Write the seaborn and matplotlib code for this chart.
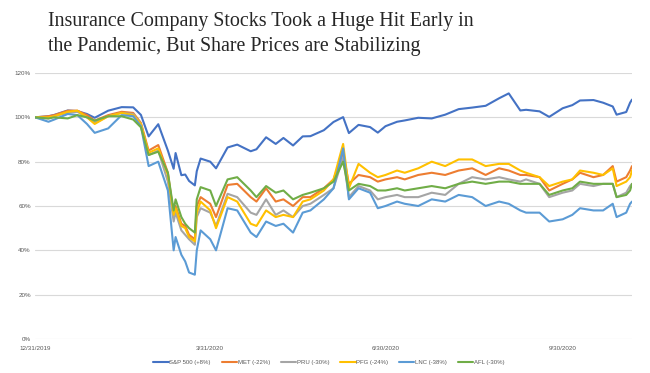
import matplotlib
matplotlib.use("Agg")
import matplotlib.pyplot as plt
import seaborn as sns
import pandas as pd

dates = ["2019-12-31", "2020-01-07", "2020-01-10", "2020-01-17", "2020-01-22", "2020-01-27",
         "2020-01-31", "2020-02-07", "2020-02-14", "2020-02-20", "2020-02-24", "2020-02-28",
         "2020-03-04", "2020-03-09", "2020-03-12", "2020-03-13", "2020-03-16", "2020-03-18",
         "2020-03-20", "2020-03-23", "2020-03-24", "2020-03-26", "2020-03-31", "2020-04-03",
         "2020-04-09", "2020-04-14", "2020-04-21", "2020-04-24", "2020-04-29", "2020-05-04",
         "2020-05-08", "2020-05-13", "2020-05-18", "2020-05-22", "2020-05-29", "2020-06-03",
         "2020-06-08", "2020-06-11", "2020-06-16", "2020-06-22", "2020-06-26", "2020-06-30",
         "2020-07-06", "2020-07-10", "2020-07-17", "2020-07-24", "2020-07-31", "2020-08-07",
         "2020-08-14", "2020-08-21", "2020-08-28", "2020-09-02", "2020-09-08", "2020-09-11",
         "2020-09-18", "2020-09-23", "2020-09-30", "2020-10-05", "2020-10-09", "2020-10-16",
         "2020-10-21", "2020-10-26", "2020-10-28", "2020-11-02", "2020-11-04", "2020-11-05"]

sp500 = [100, 100.5, 101.1, 103.1, 102.8, 101.5, 99.8, 103.0, 104.6, 104.5, 101.1, 91.4,
         96.9, 85.0, 76.8, 83.9, 73.9, 74.2, 71.3, 69.3, 75.7, 81.4, 80.0, 77.0,
         86.4, 87.7, 84.7, 85.6, 91.0, 88.0, 90.7, 87.3, 91.4, 91.5, 94.2, 97.9,
         100.1, 92.9, 96.6, 95.6, 93.1, 96.0, 98.0, 98.6, 99.8, 99.5, 101.2, 103.7,
         104.4, 105.2, 108.6, 110.8, 103.1, 103.4, 102.7, 100.2, 104.1, 105.5, 107.6, 107.8,
         106.6, 104.9, 101.2, 102.4, 106.6, 108.0]
met = [100, 100.5, 101, 103, 103, 101, 98.5, 101, 102.5, 102, 97.5, 85,
       87.5, 75, 56, 60, 52, 51, 47, 45, 60, 64, 61, 55,
       69.5, 70, 64, 62, 68, 62, 63, 60, 64, 64, 68, 72,
       84, 70, 74, 73, 71, 72, 73, 72, 74, 75, 74, 76,
       77, 74, 77, 76, 74, 74, 73, 67, 70, 72, 75, 73,
       74, 78, 71, 73, 76, 78]
pru = [100, 99.5, 100.5, 102, 102.5, 100, 97.5, 100.5, 102, 101.5, 97, 83,
       85, 71, 53, 57, 49, 47, 45, 42.5, 55, 59, 57, 51,
       65.5, 64, 57, 56, 63, 56, 58, 55, 60, 61, 65, 68,
       82, 64, 69, 67, 63, 64, 65, 64, 64, 66, 65, 70,
       73, 72, 73, 72, 71, 72, 70, 64, 66, 67, 70, 69,
       70, 70, 64, 66, 69, 70]
pfg = [100, 100, 100.5, 102.5, 103, 100, 97, 100.5, 102, 101, 97, 84,
       86, 74, 56, 59, 51, 50, 46, 44, 57, 62, 58, 50,
       64, 62, 52, 51, 58, 55, 56, 55, 62, 63, 67, 72,
       88, 68, 79, 75, 73, 74, 76, 75, 77, 80, 78, 81,
       81, 78, 79, 79, 76, 75, 73, 69, 71, 72, 76, 75,
       74, 77, 69, 71, 73, 76]
lnc = [100, 98, 99, 101.5, 101, 97, 93, 95, 101, 100.5, 96, 78,
       80, 67, 40, 46, 38, 35, 30, 29, 40, 49, 45, 40,
       59, 58, 48, 46, 53, 51, 52, 48, 57, 58, 63, 68,
       86, 63, 68, 66, 59, 60, 62, 61, 60, 63, 62, 65,
       64, 60, 62, 61, 58, 57, 57, 53, 54, 56, 59, 58,
       58, 61, 55, 57, 61, 62]
afl = [100, 99.5, 100, 99.5, 101, 100, 98.5, 100.5, 100.5, 99, 95.5, 83,
       84.5, 75, 58, 63, 55, 52, 50, 48, 63, 68.5, 67, 60,
       72, 73, 67, 64, 69, 66, 67, 63, 65, 66, 68, 71,
       80, 67, 70, 69, 67, 67, 68, 67, 68, 69, 68, 70,
       71, 70, 71, 71, 70, 70, 70, 65, 67, 68, 71, 70,
       70, 70, 64, 65, 67, 70]

labels = ["S&P 500 (+8%)", "MET (-22%)", "PRU (-30%)", "PFG (-24%)", "LNC (-38%)", "AFL (-30%)"]
colors = ["#4472C4", "#ED7D31", "#A5A5A5", "#FFC000", "#5B9BD5", "#70AD47"]
series = [sp500, met, pru, pfg, lnc, afl]

tick_dates = ["2019-12-31", "2020-03-31", "2020-06-30", "2020-09-30"]
tick_labels = ["12/31/2019", "3/31/2020", "6/30/2020", "9/30/2020"]
ytick_vals = [0, 20, 40, 60, 80, 100, 120]
ytick_labels = ["0%", "20%", "40%", "60%", "80%", "100%", "120%"]

title = "Insurance Company Stocks Took a Huge Hit Early in\nthe Pandemic, But Share Prices are Stabilizing"

frames = []
for lab, vals in zip(labels, series):
    frames.append(pd.DataFrame({"date": pd.to_datetime(dates), "value": vals, "series": lab}))
df = pd.concat(frames, ignore_index=True)

sns.set_style("white")
plt.rcParams["font.family"] = ["Liberation Sans", "DejaVu Sans"]

fig = plt.figure(figsize=(6.5, 3.73), dpi=100)
ax = fig.add_axes([35 / 650, 1 - 339 / 373, (632 - 35) / 650, (339 - 73) / 373])

sns.lineplot(data=df, x="date", y="value", hue="series", hue_order=labels,
             palette=colors, linewidth=1.5, ax=ax, legend=True)

ax.set_xlim(pd.Timestamp(dates[0]), pd.Timestamp(dates[-1]))
ax.set_ylim(0, 120)
ax.set_yticks(ytick_vals)
ax.set_yticklabels(ytick_labels)
ax.set_xticks(pd.to_datetime(tick_dates))
ax.set_xticklabels(tick_labels)
ax.tick_params(axis="both", labelsize=4.5, labelcolor="#595959", length=0, pad=3)
ax.tick_params(axis="x", pad=5)
ax.yaxis.grid(True, color="#D9D9D9", linewidth=0.8)
ax.set_axisbelow(True)
for s in ax.spines.values():
    s.set_visible(False)
ax.set_xlabel("")
ax.set_ylabel("")

leg = ax.legend(loc="upper center", bbox_to_anchor=(0.492, -0.058), ncol=6, frameon=False,
                fontsize=4.3, handlelength=2.6, handletextpad=0.1, columnspacing=1.8)
for t in leg.get_texts():
    t.set_color("#595959")

fig.text(48 / 650, 1 - 12 / 373, title, ha="left", va="top", fontsize=14.4,
         family="Liberation Serif", color="#262626", linespacing=1.4)

fig.savefig("out.png", dpi=100)
